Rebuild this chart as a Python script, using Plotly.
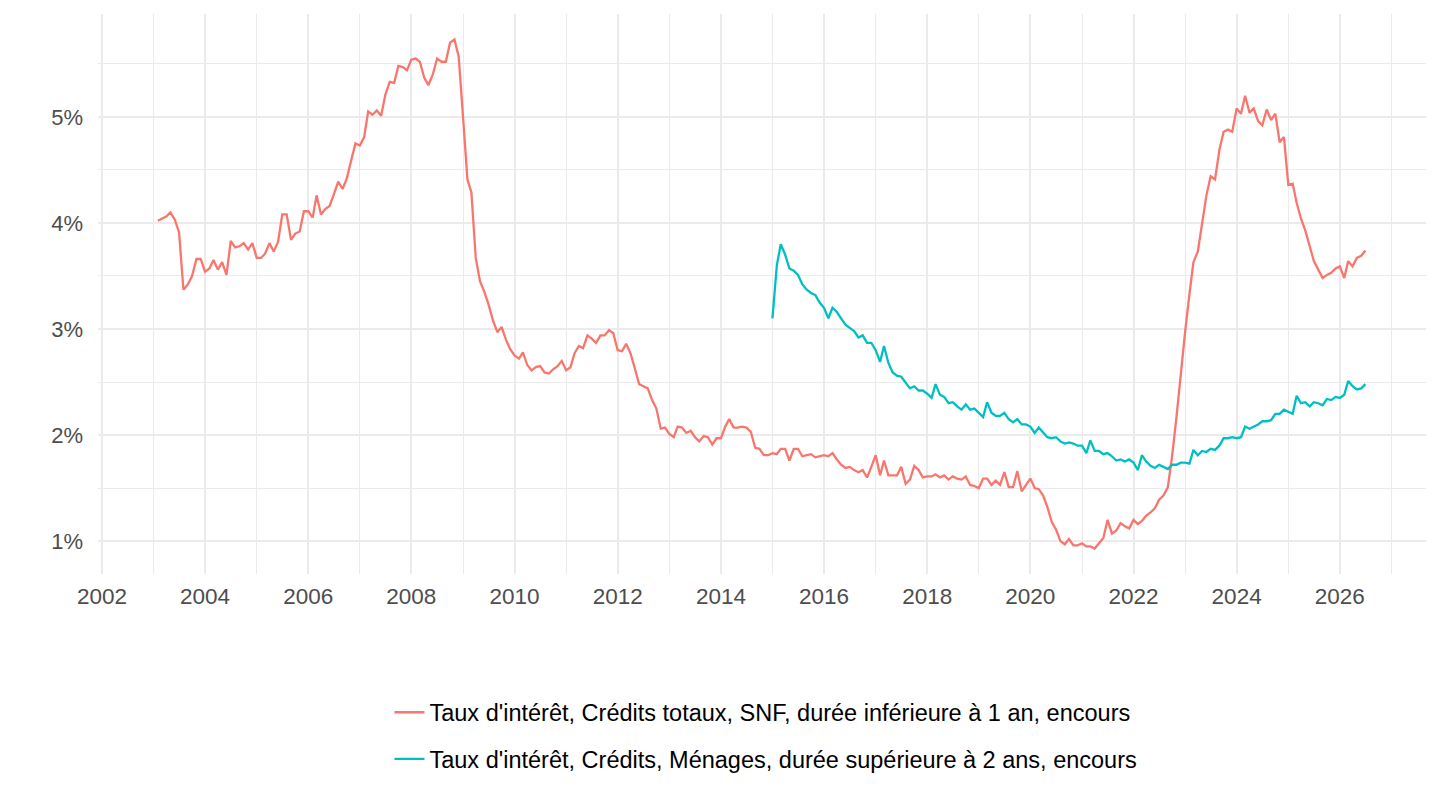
import pandas as pd
import plotly.graph_objects as go

# monthly interest rates (%)
snfStart = "2003-02-01"
snfRates = [
    # 2003 (from Feb)
    4.02, 4.04, 4.06, 4.10, 4.03, 3.91, 3.37, 3.42, 3.50, 3.66, 3.66,
    # 2004
    3.54, 3.57, 3.65, 3.56, 3.63, 3.51, 3.83, 3.77, 3.78, 3.81, 3.75, 3.81,
    # 2005
    3.67, 3.67, 3.71, 3.81, 3.73, 3.82, 4.08, 4.08, 3.84, 3.90, 3.92, 4.11,
    # 2006
    4.11, 4.05, 4.26, 4.08, 4.13, 4.16, 4.27, 4.39, 4.32, 4.42, 4.59, 4.75,
    # 2007
    4.73, 4.81, 5.05, 5.02, 5.06, 5.01, 5.21, 5.33, 5.32, 5.48, 5.47, 5.44,
    # 2008
    5.54, 5.55, 5.52, 5.37, 5.30, 5.40, 5.55, 5.52, 5.52, 5.70, 5.73, 5.57,
    # 2009
    5.00, 4.41, 4.29, 3.67, 3.45, 3.35, 3.23, 3.08, 2.97, 3.02, 2.90, 2.81,
    # 2010
    2.75, 2.72, 2.78, 2.66, 2.61, 2.64, 2.65, 2.59, 2.58, 2.62, 2.65, 2.70,
    # 2011
    2.61, 2.64, 2.77, 2.84, 2.82, 2.94, 2.91, 2.87, 2.94, 2.94, 2.99, 2.96,
    # 2012
    2.80, 2.79, 2.86, 2.77, 2.63, 2.48, 2.46, 2.44, 2.33, 2.25, 2.06, 2.07,
    # 2013
    2.01, 1.98, 2.08, 2.07, 2.02, 2.04, 1.98, 1.94, 1.99, 1.98, 1.91, 1.97,
    # 2014
    1.97, 2.08, 2.15, 2.07, 2.07, 2.08, 2.07, 2.03, 1.88, 1.87, 1.81, 1.81,
    # 2015
    1.83, 1.82, 1.87, 1.87, 1.76, 1.87, 1.87, 1.80, 1.81, 1.82, 1.79, 1.80,
    # 2016
    1.81, 1.80, 1.83, 1.77, 1.72, 1.69, 1.70, 1.67, 1.65, 1.67, 1.60, 1.70,
    # 2017
    1.81, 1.62, 1.76, 1.62, 1.62, 1.62, 1.70, 1.54, 1.58, 1.71, 1.67, 1.60,
    # 2018
    1.61, 1.61, 1.63, 1.60, 1.62, 1.58, 1.61, 1.59, 1.58, 1.61, 1.53, 1.52,
    # 2019
    1.50, 1.59, 1.59, 1.53, 1.57, 1.53, 1.65, 1.51, 1.51, 1.66, 1.47, 1.53,
    # 2020
    1.59, 1.50, 1.49, 1.43, 1.32, 1.18, 1.11, 1.00, 0.97, 1.02, 0.96, 0.96,
    # 2021
    0.98, 0.95, 0.95, 0.93, 0.98, 1.03, 1.20, 1.07, 1.10, 1.17, 1.14, 1.12,
    # 2022
    1.20, 1.16, 1.19, 1.24, 1.27, 1.31, 1.39, 1.43, 1.51, 1.80, 2.17, 2.58,
    # 2023
    2.97, 3.33, 3.63, 3.73, 4.00, 4.26, 4.44, 4.41, 4.69, 4.86, 4.88, 4.86,
    # 2024
    5.08, 5.03, 5.20, 5.04, 5.08, 4.96, 4.92, 5.07, 4.97, 5.03, 4.76, 4.81,
    # 2025
    4.36, 4.37, 4.19, 4.04, 3.93, 3.79, 3.64, 3.56, 3.48, 3.51, 3.53, 3.57,
    # 2026
    3.59, 3.48, 3.64, 3.59, 3.67, 3.69, 3.74,
]

menagesStart = "2015-01-01"
menagesRates = [
    # 2015
    3.10, 3.60, 3.80, 3.70, 3.57, 3.55, 3.51, 3.42, 3.37, 3.34, 3.32, 3.25,
    # 2016
    3.20, 3.10, 3.20, 3.16, 3.10, 3.04, 3.01, 2.98, 2.92, 2.94, 2.87, 2.87,
    # 2017
    2.80, 2.69, 2.84, 2.68, 2.59, 2.56, 2.55, 2.49, 2.44, 2.46, 2.42, 2.42,
    # 2018
    2.39, 2.35, 2.48, 2.38, 2.36, 2.30, 2.31, 2.27, 2.24, 2.29, 2.24, 2.25,
    # 2019
    2.21, 2.17, 2.31, 2.21, 2.18, 2.18, 2.21, 2.15, 2.12, 2.15, 2.10, 2.10,
    # 2020
    2.08, 2.02, 2.07, 2.02, 1.98, 1.97, 1.98, 1.94, 1.92, 1.93, 1.92, 1.90,
    # 2021
    1.90, 1.83, 1.95, 1.85, 1.85, 1.82, 1.83, 1.80, 1.76, 1.77, 1.75, 1.77,
    # 2022
    1.74, 1.67, 1.81, 1.75, 1.71, 1.69, 1.72, 1.70, 1.68, 1.72, 1.72, 1.74,
    # 2023
    1.74, 1.73, 1.86, 1.81, 1.85, 1.84, 1.87, 1.86, 1.90, 1.97, 1.97, 1.98,
    # 2024
    1.97, 1.98, 2.08, 2.06, 2.08, 2.10, 2.13, 2.13, 2.14, 2.20, 2.20, 2.24,
    # 2025
    2.22, 2.20, 2.37, 2.30, 2.31, 2.27, 2.31, 2.30, 2.28, 2.34, 2.33, 2.36,
    # 2026
    2.35, 2.38, 2.51, 2.46, 2.43, 2.44, 2.48,
]

seriesNames = [
    "Taux d'intérêt, Crédits totaux, SNF, durée inférieure à 1 an, encours",
    "Taux d'intérêt, Crédits, Ménages, durée supérieure à 2 ans, encours",
]
seriesColors = ["#F8766D", "#00BFC4"]

yTicks = [1, 2, 3, 4, 5]
yTickText = ["1%", "2%", "3%", "4%", "5%"]

snfDates = pd.date_range(snfStart, periods=len(snfRates), freq="MS")
menagesDates = pd.date_range(menagesStart, periods=len(menagesRates), freq="MS")

fig = go.Figure()
for i, (dates, rates) in enumerate([(snfDates, snfRates), (menagesDates, menagesRates)]):
    fig.add_trace(go.Scatter(
        x=dates, y=rates, mode="lines", name=seriesNames[i],
        legendgroup=str(i),
        line=dict(color=seriesColors[i], width=2.3),
    ))

# page body has an 8px margin, so the figure is a bit smaller than the window
gridColor = "#EBEBEB"
fig.update_layout(
    width=1424, height=794,
    margin=dict(l=90, r=6, t=6, b=228),
    plot_bgcolor="white", paper_bgcolor="white",
    font=dict(family="Liberation Sans, Arial, sans-serif", size=22, color="#4D4D4D"),
    showlegend=True,
    legend=dict(
        orientation="v", x=0.503, xanchor="center", y=-0.208, yanchor="top",
        font=dict(size=23.5, color="black"), tracegroupgap=13,
        bgcolor="rgba(0,0,0,0)",
    ),
    xaxis=dict(
        type="date", range=["2001-12-04", "2027-09-03"],
        tick0="2002-01-01", dtick="M24", tickformat="%Y",
        showgrid=True, gridcolor=gridColor, gridwidth=2,
        minor=dict(dtick="M12", showgrid=True, gridcolor=gridColor, gridwidth=1),
        zeroline=False, showline=False, ticks="", ticklabelstandoff=6,
        tickfont=dict(size=22.5),
    ),
    yaxis=dict(
        range=[0.69, 5.97], tickvals=yTicks, ticktext=yTickText,
        showgrid=True, gridcolor=gridColor, gridwidth=2,
        minor=dict(dtick=0.5, tick0=0.5, showgrid=True, gridcolor=gridColor, gridwidth=1),
        zeroline=False, showline=False, ticks="", ticklabelstandoff=14,
        tickfont=dict(size=22),
    ),
)

fig.write_html("out.html")
